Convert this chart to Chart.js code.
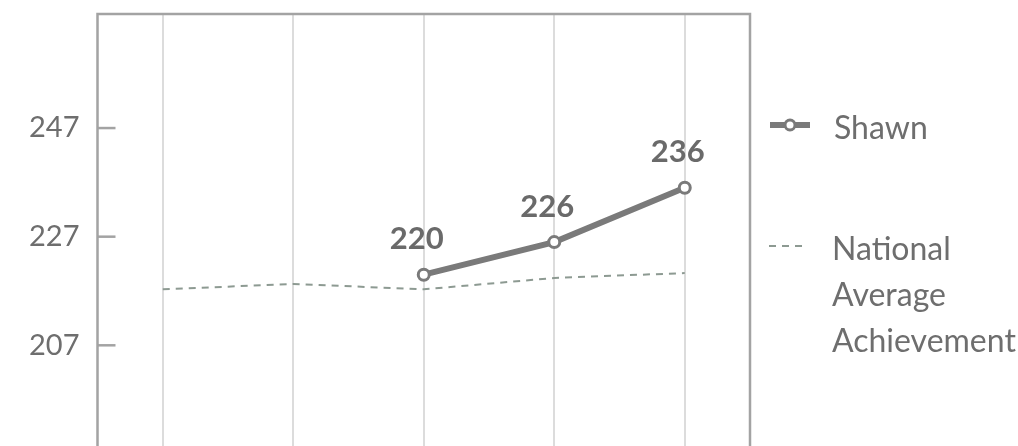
<!DOCTYPE html>
<html>
<head>
<meta charset="utf-8">
<script src="https://cdn.jsdelivr.net/npm/chart.js@4"></script>
<style>
html, body { margin:0; padding:0; background:#fff; overflow:hidden; }
#wrap { position:relative; width:1018px; height:446px; overflow:hidden; }
#legend { position:absolute; left:0; top:0; font-family:Lato, sans-serif; font-size:32px; line-height:46px; color:#6e6e6e; }
.lg { position:absolute; white-space:nowrap; }
</style>
</head>
<body>
<div id="wrap">
<canvas id="chart" width="1018" height="457"></canvas>
<div id="legend">
  <svg class="lg" style="left:766px;top:115px" width="50" height="20">
    <line x1="4" y1="10" x2="44" y2="10" stroke="#7a7a7a" stroke-width="6"/>
    <circle cx="24" cy="10" r="5" fill="#fff" stroke="#7a7a7a" stroke-width="3"/>
  </svg>
  <div class="lg" style="left:834px;top:104px">Shawn</div>
  <svg class="lg" style="left:766px;top:236px" width="50" height="20">
    <line x1="3" y1="10" x2="41" y2="10" stroke="#8d9a92" stroke-width="2" stroke-dasharray="7,6"/>
  </svg>
  <div class="lg" style="left:832px;top:225px">National<br>Average<br>Achievement</div>
</div>
</div>
<script>
// categories (x labels are below the visible area)
const periods = ["Period 1", "Period 2", "Period 3", "Period 4", "Period 5"];
const shawnScores = [null, null, 220, 226, 236];
const nationalAvg = [217.3, 218.3, 217.3, 219.4, 220.3];
const yTicks = [207, 227, 247];
const yMin = 188;
const yMax = 268;

const grayText = "#6e6e6e";
const frameColor = "#a3a3a3";

// inward ticks + frame box
const framePlugin = {
  id: "frame",
  afterDraw(chart){
    const ctx = chart.ctx;
    const a = chart.chartArea;
    const y = chart.scales.y;
    ctx.save();
    ctx.strokeStyle = frameColor;
    ctx.lineWidth = 2.5;
    ctx.strokeRect(a.left, a.top, a.right - a.left, a.bottom - a.top + 10);
    y.ticks.forEach((t, i) => {
      const py = y.getPixelForTick(i);
      ctx.beginPath();
      ctx.moveTo(a.left, py);
      ctx.lineTo(a.left + 18, py);
      ctx.stroke();
    });
    ctx.restore();
  }
};

// value labels above Shawn's points
const valueLabels = {
  id: "valueLabels",
  afterDatasetsDraw(chart){
    const ctx = chart.ctx;
    const meta = chart.getDatasetMeta(0);
    ctx.save();
    ctx.font = "bold 31px Lato, sans-serif";
    ctx.fillStyle = "#6a6a6a";
    ctx.textAlign = "center";
    ctx.textBaseline = "bottom";
    meta.data.forEach((pt, i) => {
      const v = shawnScores[i];
      if (v == null) return;
      ctx.fillText(String(v), pt.x - 7, pt.y - 20);
    });
    ctx.restore();
  }
};

new Chart(document.getElementById("chart"), {
  type: "line",
  data: {
    labels: periods,
    datasets: [
      {
        label: "Shawn",
        data: shawnScores,
        borderColor: "#7a7a7a",
        borderWidth: 6,
        pointRadius: 5.5,
        pointBorderWidth: 3,
        pointBackgroundColor: "#fff",
        pointBorderColor: "#7a7a7a",
        tension: 0,
        spanGaps: false
      },
      {
        label: "National Average Achievement",
        data: nationalAvg,
        borderColor: "#8d9a92",
        borderWidth: 2,
        borderDash: [7, 6],
        pointRadius: 0,
        tension: 0
      }
    ]
  },
  options: {
    responsive: false,
    animation: false,
    layout: { padding: { top: 14, right: 268, bottom: 0, left: 0 } },
    plugins: { legend: { display: false }, tooltip: { enabled: false } },
    scales: {
      x: {
        offset: true,
        grid: { offset: false, color: "#dcdcdc", lineWidth: 2, drawTicks: false },
        border: { display: false },
        ticks: { display: false }
      },
      y: {
        min: yMin,
        max: yMax,
        afterBuildTicks(scale){ scale.ticks = yTicks.map(v => ({ value: v })); },
        afterFit(scale){ scale.width = 97.5; scale.paddingTop = 0; scale.paddingBottom = 0; },
        grid: { display: false, drawTicks: false },
        border: { display: false },
        ticks: {
          color: grayText,
          font: { family: "Lato, sans-serif", size: 29 },
          padding: 18
        }
      }
    }
  },
  plugins: [framePlugin, valueLabels]
});
</script>
</body>
</html>
